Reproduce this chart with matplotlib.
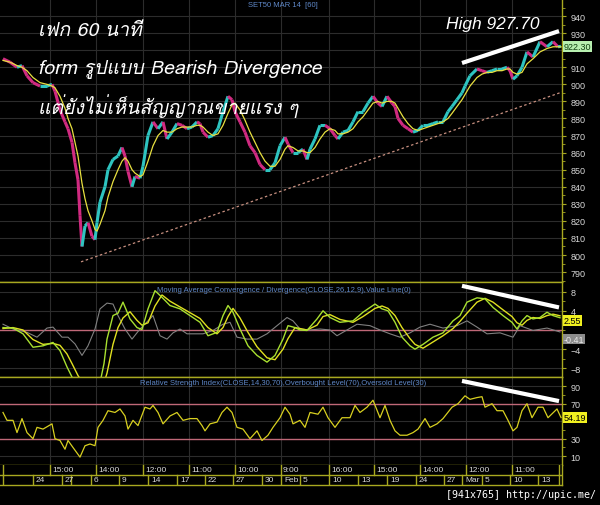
import numpy as np
import matplotlib
matplotlib.use("Agg")
import matplotlib.pyplot as plt
from matplotlib import font_manager
from matplotlib.ft2font import FT2Font
from matplotlib.collections import LineCollection

# ---- data (x = bar position along the time axis) ----
price_x = [3, 10, 17, 22, 27, 33, 40, 47, 52, 55, 60, 65, 68, 72, 75, 78, 80, 82, 85, 88,
           92, 95, 97, 100, 105, 108, 113, 118, 122, 125, 128, 132, 135, 140, 143, 148, 153, 158, 163, 167,
           172, 177, 182, 187, 192, 197, 200, 203, 208, 213, 218, 223, 228, 232, 235, 240, 245, 250, 255, 260,
           265, 270, 275, 280, 285, 288, 293, 298, 303, 307, 310, 315, 320, 325, 330, 335, 338, 343, 348, 353,
           358, 363, 368, 373, 378, 382, 387, 392, 395, 398, 403, 408, 413, 418, 423, 428, 433, 438, 443, 448,
           452, 457, 462, 465, 470, 477, 482, 487, 492, 497, 502, 507, 510, 513, 517, 522, 527, 533, 540, 547,
           553, 558, 561]
close = [915, 913, 910, 911, 905, 901, 899, 899, 900, 896, 885, 878, 874, 866, 854, 844, 823, 805, 817, 819,
         811, 809, 819, 831, 840, 850, 856, 858, 863, 858, 849, 840, 846, 845, 852, 870, 878, 874, 878, 868,
         872, 877, 876, 874, 875, 878, 877, 872, 869, 870, 874, 884, 893, 891, 884, 878, 872, 864, 860, 853,
         850, 850, 854, 864, 869, 865, 860, 860, 862, 856, 862, 868, 876, 876, 874, 870, 868, 872, 873, 878,
         884, 884, 889, 893, 889, 887, 893, 889, 887, 880, 876, 874, 872, 873, 876, 876, 877, 878, 878, 884,
         887, 891, 895, 899, 905, 909, 908, 907, 908, 909, 909, 910, 908, 903, 905, 910, 919, 916, 925, 922,
         925, 922, 922.3]
ma_line = [914, 913, 911, 910, 908, 904, 901, 900, 899, 898, 893, 886, 880, 874, 866, 858, 850, 842, 833, 826,
           820, 815, 814, 818, 826, 834, 843, 850, 855, 857, 855, 850, 848, 846, 847, 855, 864, 870, 873, 872,
           872, 874, 875, 875, 875, 876, 876, 875, 872, 870, 871, 876, 883, 888, 889, 885, 879, 872, 866, 860,
           855, 852, 852, 856, 862, 864, 863, 861, 861, 860, 860, 863, 868, 872, 874, 873, 871, 871, 872, 874,
           878, 881, 885, 889, 890, 889, 890, 890, 889, 886, 881, 877, 874, 873, 874, 875, 876, 877, 878, 880,
           883, 887, 891, 894, 899, 904, 906, 907, 907, 908, 908, 909, 909, 907, 906, 907, 912, 915, 919, 921,
           922, 922, 922]

macd_x = [3, 13, 23, 33, 43, 53, 60, 67, 72, 78, 86, 94, 100, 104, 107, 113, 118, 123, 130, 137,
          142, 148, 155, 162, 170, 180, 190, 200, 208, 217, 223, 228, 233, 240, 248, 257, 267, 275, 283, 288,
          295, 300, 307, 317, 323, 330, 340, 353, 363, 375, 382, 388, 395, 402, 410, 415, 423, 433, 443, 453,
          460, 467, 477, 485, 493, 503, 512, 517, 522, 527, 533, 540, 547, 553, 560]
macd = [0.5, 0.4, -0.8, -3.6, -3.3, -2.6, -4.3, -7.7, -9.8, -13, -15, -14, -11, -7, -1.9, 3.0, 3.5, 5.8, 2.3, 0.5,
        0.1, 4.4, 8.2, 6.8, 5.1, 4.4, 3.0, 1.6, -1.2, -0.5, 3.0, 5.1, 3.7, 0.2, -3.3, -5.3, -6.7, -5.3, -1.9, 0.9,
        0.5, 0.0, -0.1, 2.3, 4.0, 2.6, 1.6, 1.9, 3.7, 5.4, 4.4, 4.0, 1.6, -1.5, -3.3, -4.0, -3.0, -1.5, -0.6, 1.9,
        3.0, 5.8, 6.7, 6.5, 4.7, 3.0, 1.6, 0.2, 1.9, 3.0, 2.3, 2.6, 3.7, 3.0, 2.55]
signal = [0.3, 0.5, 0.0, -2.0, -3.0, -2.8, -3.2, -5.0, -7.0, -9.5, -12, -13.5, -13, -11, -9, -3, 0.5, 2.5, 3.8, 2.0,
          1.0, 1.5, 5.0, 7.3, 6.0, 4.8, 3.6, 2.4, 0.5, -0.8, 0.5, 2.8, 4.5, 2.5, -0.5, -3.5, -5.8, -6.2, -4.0, -1.8,
          0.5, 0.3, 0.0, 1.0, 2.8, 3.2, 2.2, 1.6, 2.8, 4.5, 5.0, 4.5, 3.0, 0.5, -1.8, -3.0, -3.8, -2.5, -1.2, 0.3,
          1.8, 3.5, 5.8, 6.6, 5.8, 4.2, 2.8, 1.5, 1.0, 2.0, 2.6, 2.4, 3.0, 3.3, 2.96]

diff_x = [3, 13, 27, 37, 47, 53, 62, 68, 75, 82, 88, 95, 100, 107, 113, 118, 125, 132, 140, 148,
          153, 160, 167, 173, 180, 187, 195, 203, 213, 223, 230, 237, 247, 257, 267, 277, 287, 293, 300, 310,
          320, 330, 337, 347, 357, 370, 380, 390, 400, 410, 420, 430, 443, 457, 467, 477, 487, 500, 513, 520,
          533, 547, 560]
diff = [1.2, 0.2, -0.5, -1.5, 0.4, 0.6, -1.5, -1.5, -2.9, -5.3, -3.3, 0.2, 4.4, 5.6, 5.4, 3.0, 0.2, -1.9, 0.2, 1.9,
        3.0, -1.2, -1.9, -0.6, 0.2, -0.8, -0.8, -0.8, -0.1, 1.2, 1.6, -1.5, -1.9, -1.9, -0.8, 0.9, 2.6, 1.9, 0.2, 0.0,
        0.2, 0.0, -1.2, 0.0, 1.2, 0.9, 0.0, -0.8, -1.5, -0.6, 0.6, 1.2, 0.4, 0.9, 1.9, 0.6, -0.8, -0.6, -1.5, 0.9,
        -0.1, 0.4, -0.41]

rsi_x = [3, 7, 13, 17, 22, 27, 33, 37, 43, 52, 55, 60, 65, 68, 73, 80, 85, 90, 95, 98,
         103, 108, 115, 120, 125, 128, 133, 138, 145, 150, 153, 158, 163, 170, 177, 183, 190, 197, 202, 205,
         210, 217, 222, 227, 232, 237, 243, 250, 257, 262, 268, 273, 280, 285, 290, 293, 300, 305, 310, 318,
         323, 328, 335, 342, 350, 355, 360, 367, 373, 380, 385, 390, 395, 400, 407, 413, 418, 425, 430, 437,
         443, 452, 458, 465, 470, 477, 482, 485, 492, 497, 503, 508, 513, 517, 522, 527, 532, 538, 543, 548,
         557, 561]
rsi = [60, 51, 51, 37, 53, 37, 30, 43, 41, 47, 30, 28, 18, 28, 20, 9, 22, 24, 22, 43,
       51, 62, 60, 64, 56, 41, 51, 45, 66, 64, 68, 60, 47, 56, 60, 51, 53, 53, 45, 39,
       47, 49, 60, 66, 60, 43, 41, 30, 39, 28, 34, 43, 54, 66, 58, 47, 51, 43, 60, 58,
       66, 54, 43, 54, 54, 68, 60, 66, 74, 54, 68, 51, 39, 34, 34, 37, 41, 53, 43, 47,
       53, 66, 70, 79, 75, 77, 78, 66, 70, 62, 62, 51, 39, 43, 62, 70, 54, 66, 66, 54,
       64, 54.19]

trend_x = [81, 562]
trend_y = [796, 895.5]
div_x = [462, 559]
div_price = [912.5, 931.2]
div_macd = [9.2, 4.7]
div_rsi = [96, 73]

row1_edges = [3, 50, 96, 143, 189, 235, 281, 329, 374, 420, 466, 512, 559]
row1_labels = ["", "15:00", "14:00", "12:00", "11:00", "10:00", "9:00", "16:00", "15:00", "14:00", "12:00", "11:00"]
row2_edges = [3, 33, 62, 71, 91, 119, 148, 177, 205, 233, 262, 281, 300, 329, 358, 387, 416, 444, 462, 482, 510, 538, 559]
row2_labels = ["", "24", "27", "", "6", "9", "14", "17", "22", "27", "30", "Feb", "5", "10", "13", "19", "24", "27",
               "Mar", "5", "10", "13"]

W, H = 600, 506
BG = "black"
AXC = "#a8a820"
GRID = "#2c2c2c"
LBL = "#d8d8d8"
BLUE = "#5f88c8"
PINK = "#c06878"


def thai_font():
    for f in font_manager.fontManager.ttflist:
        try:
            if FT2Font(f.fname).get_char_index(0x0E01):
                return f.name
        except Exception:
            pass
    return "DejaVu Sans"


THAI = thai_font()
plt.rcParams['font.family'] = ['Liberation Sans', 'DejaVu Sans']


def rect(x0, y0, x1, y1):
    return [x0 / W, 1 - y1 / H, (x1 - x0) / W, (y1 - y0) / H]


fig = plt.figure(figsize=(6, 5.06), dpi=100, facecolor=BG)
ax = fig.add_axes(rect(0, 0, 562, 283))
axm = fig.add_axes(rect(0, 283, 562, 378))
axr = fig.add_axes(rect(0, 378, 562, 466))
axt = fig.add_axes(rect(0, 466, 562, 486))

for a in (ax, axm, axr, axt):
    a.set_facecolor(BG)
    a.set_xlim(0, 562)
    a.set_xticks([])
    for s in a.spines.values():
        s.set_color(AXC)
        s.set_linewidth(1)
    a.spines['left'].set_visible(False)

for a in (ax, axm, axr):
    a.yaxis.tick_right()
    a.tick_params(axis='y', colors=AXC, labelcolor=LBL, labelsize=6.5, length=3, pad=3)
    a.tick_params(axis='y', which='minor', colors=AXC, length=2)
    for xe in row1_edges[1:-1]:
        a.axvline(xe, color=GRID, lw=0.8, zorder=0)
ax.spines['top'].set_visible(False)

box = 'square,pad=0.08'

# ---- price panel ----
ax.set_ylim(784.2, 950)
price_ticks = [v for v in range(790, 941, 10) if v != 920]   # 920 sits under the last-price box
ax.set_yticks(price_ticks)
ax.set_yticks(np.arange(785, 946, 5), minor=True)
for v in np.arange(790, 941, 10):
    ax.axhline(v, color=GRID, lw=0.8, zorder=0)
pts = np.column_stack([price_x, close])
segs = np.stack([pts[:-1], pts[1:]], axis=1)
cols = ["#2ec4c0" if b >= a else "#d02a80" for a, b in zip(close[:-1], close[1:])]
ax.add_collection(LineCollection(segs, colors=cols, linewidths=2.2, zorder=2))
ax.plot(price_x, ma_line, color="#e8e040", lw=0.9, zorder=3)
ax.plot(trend_x, trend_y, color="#c89080", lw=0.9, ls=(0, (2, 2)), zorder=2)
ax.plot(div_x, div_price, color="white", lw=3, solid_capstyle='butt', zorder=4)
ax.text(446, 935.5, "High 927.70", color="white", fontsize=12.5, style='italic', va='center', ha='left')
ax.text(248, 947, "SET50 MAR 14  [60]", color=BLUE, fontsize=5.5, va='center', ha='left')
thai_lines = ["เฟก 60 นาที", "form รูปแบบ Bearish Divergence", "แต่ยังไม่เห็นสัญญาณขายแรง ๆ"]
for i, s in enumerate(thai_lines):
    ax.text(38, 932 - i * 22, s, color="white", fontsize=14, style='italic', va='center', ha='left',
            family=[THAI, 'DejaVu Sans'])
ax.text(564, close[-1], "%.2f" % close[-1], color="#104010", fontsize=6.5,
        va='center', ha='left', clip_on=False, bbox=dict(boxstyle=box, fc="#b8f0b0", ec='none'))

# ---- MACD panel ----
axm.set_ylim(-9.8, 10)
axm.set_yticks([-8, -4, 4, 8])
axm.set_yticks(np.arange(-8, 9, 2), minor=True)
for v in [-8, -4, 4, 8]:
    axm.axhline(v, color=GRID, lw=0.8, zorder=0)
axm.axhline(0, color=PINK, lw=1, zorder=1)
axm.plot(diff_x, diff, color="#808080", lw=0.8, zorder=2)
axm.plot(macd_x, signal, color="#e0e020", lw=1.0, zorder=3)
axm.plot(macd_x, macd, color="#a8e030", lw=1.0, zorder=3)
axm.plot(div_x, div_macd, color="white", lw=3, solid_capstyle='butt', zorder=4)
axm.text(157, 8.4, "Moving Average Convergence / Divergence(CLOSE,26,12,9),Value Line(0)",
         color=BLUE, fontsize=5.5, va='center', ha='left')
axm.text(564, 2.0, "%.2f" % macd[-1], color="black", fontsize=6.5, va='center', ha='left', clip_on=False,
         bbox=dict(boxstyle=box, fc="#f0f020", ec='none'))
axm.text(564, -1.9, "%.2f" % diff[-1], color="#e8e8e8", fontsize=6.5, va='center', ha='left', clip_on=False,
         bbox=dict(boxstyle=box, fc="#8c8c8c", ec='none'))

# ---- RSI panel ----
axr.set_ylim(0, 100.5)
axr.set_yticks([10, 30, 70, 90])
axr.set_yticks(np.arange(10, 100, 10), minor=True)
for v in [10, 50, 90]:
    axr.axhline(v, color=GRID, lw=0.8, zorder=0)
axr.axhline(70, color=PINK, lw=1, zorder=1)
axr.axhline(30, color=PINK, lw=1, zorder=1)
axr.plot(rsi_x, rsi, color="#d8d020", lw=0.9, zorder=3)
axr.plot(div_x, div_rsi, color="white", lw=3, solid_capstyle='butt', zorder=4)
axr.text(140, 94.5, "Relative Strength Index(CLOSE,14,30,70),Overbought Level(70),Oversold Level(30)",
         color=BLUE, fontsize=5.5, va='center', ha='left')
axr.text(564, rsi[-1], "%.2f" % rsi[-1], color="black", fontsize=6.5, va='center', ha='left', clip_on=False,
         bbox=dict(boxstyle=box, fc="#f0f020", ec='none'))

# ---- time axis rows ----
axt.set_ylim(0, 2)
axt.set_yticks([])
axt.spines['top'].set_visible(False)
axt.axhline(1, color=AXC, lw=1)
for xe in row1_edges:
    axt.plot([xe, xe], [1, 2], color=AXC, lw=1)
for xe in row2_edges:
    axt.plot([xe, xe], [0, 1], color=AXC, lw=1)
for xe, s in zip(row1_edges[:-1], row1_labels):
    axt.text(xe + 2, 1.5, s, color=LBL, fontsize=6, va='center', ha='left')
for xe, s in zip(row2_edges[:-1], row2_labels):
    axt.text(xe + 3, 0.5, s, color=LBL, fontsize=6, va='center', ha='left')

fig.text(596 / W, 1 - 495 / H, "[941x765] http://upic.me/", color="white", fontsize=7.2,
         family='DejaVu Sans Mono', va='center', ha='right')

fig.savefig("out.png", dpi=100, facecolor=BG)
